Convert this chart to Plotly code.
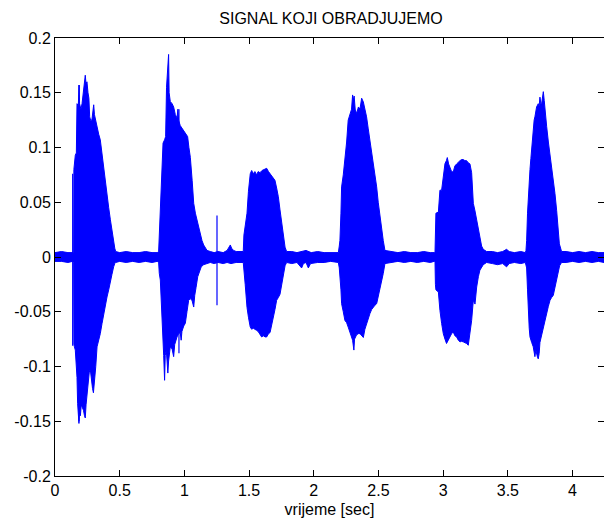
import plotly.graph_objects as go

# Upper envelope of the speech signal (time [s], amplitude)
up_t = [0.0, 0.05, 0.10, 0.135,
        0.144, 0.146, 0.157, 0.165, 0.170, 0.180, 0.186, 0.190, 0.200, 0.209, 0.220, 0.228, 0.234, 0.240, 0.247,
        0.255, 0.262, 0.268, 0.275, 0.285, 0.292, 0.299, 0.305, 0.315, 0.325, 0.338, 0.350, 0.362, 0.376, 0.389,
        0.402, 0.415, 0.428, 0.440, 0.453, 0.462, 0.469,
        0.50, 0.55, 0.60, 0.65, 0.70, 0.75, 0.79,
        0.801, 0.806, 0.814, 0.822, 0.835, 0.847, 0.855, 0.862, 0.868, 0.874, 0.878, 0.882, 0.891, 0.905, 0.917,
        0.930, 0.943, 0.950, 0.955, 0.968, 0.981, 0.995, 1.007, 1.025, 1.035, 1.046, 1.060, 1.072, 1.085, 1.097,
        1.110, 1.123, 1.136, 1.149, 1.162, 1.175,
        1.20, 1.23, 1.26, 1.30, 1.33, 1.345, 1.355, 1.365, 1.38, 1.40, 1.43, 1.455,
        1.460, 1.470, 1.484, 1.495, 1.509, 1.520, 1.532, 1.545, 1.558, 1.570, 1.584, 1.600, 1.620, 1.636, 1.650,
        1.662, 1.675, 1.687, 1.700, 1.713, 1.726, 1.739, 1.752, 1.765, 1.778, 1.790,
        1.83, 1.87, 1.90, 1.94, 1.98, 2.03, 2.08, 2.13, 2.19,
        2.197, 2.202, 2.210, 2.215, 2.228, 2.241, 2.254, 2.266, 2.279, 2.292, 2.300, 2.305, 2.312, 2.320, 2.331,
        2.345, 2.357, 2.370, 2.383, 2.395, 2.408, 2.421, 2.434, 2.447, 2.460, 2.473, 2.486, 2.498, 2.511, 2.524,
        2.537, 2.550,
        2.60, 2.65, 2.70, 2.75, 2.80, 2.85, 2.90, 2.93,
        2.937, 2.940, 2.944, 2.963, 2.975, 2.988, 3.001, 3.014, 3.025, 3.032, 3.042, 3.052, 3.065, 3.078, 3.090,
        3.104, 3.117, 3.130, 3.143, 3.155, 3.168, 3.181, 3.194, 3.207, 3.220, 3.233, 3.246, 3.259, 3.272, 3.284,
        3.297, 3.310, 3.336,
        3.38, 3.42, 3.46, 3.49, 3.51, 3.55, 3.60, 3.635,
        3.640, 3.645, 3.652, 3.658, 3.665, 3.671, 3.678, 3.684, 3.690, 3.696, 3.703, 3.709, 3.716, 3.722, 3.735,
        3.742, 3.748, 3.755, 3.761, 3.768, 3.774, 3.781, 3.787, 3.793, 3.800, 3.813, 3.826, 3.838, 3.851, 3.864,
        3.877, 3.888, 3.898, 3.915,
        3.95, 4.00, 4.05, 4.10, 4.15, 4.20, 4.243]
up_v = [0.004, 0.005, 0.004, 0.004,
        0.004, 0.080, 0.093, 0.095, 0.140, 0.138, 0.157, 0.140, 0.135, 0.140, 0.150, 0.160, 0.166, 0.158, 0.160,
        0.150, 0.145, 0.128, 0.125, 0.125, 0.130, 0.139, 0.130, 0.124, 0.120, 0.112, 0.107, 0.095, 0.079, 0.068,
        0.058, 0.045, 0.034, 0.024, 0.015, 0.008, 0.005,
        0.004, 0.005, 0.004, 0.004, 0.005, 0.004, 0.004,
        0.005, 0.020, 0.027, 0.060, 0.104, 0.107, 0.110, 0.155, 0.165, 0.180, 0.185, 0.150, 0.142, 0.140, 0.137,
        0.130, 0.127, 0.135, 0.125, 0.120, 0.1175, 0.115, 0.113, 0.110, 0.100, 0.091, 0.070, 0.049, 0.040, 0.0335,
        0.027, 0.022, 0.015, 0.011, 0.008, 0.006,
        0.005, 0.004, 0.005, 0.004, 0.006, 0.009, 0.011, 0.008, 0.006, 0.005, 0.005, 0.005,
        0.020, 0.027, 0.040, 0.060, 0.076, 0.079, 0.076, 0.078, 0.075, 0.078, 0.077, 0.079, 0.080, 0.081, 0.078,
        0.076, 0.075, 0.073, 0.070, 0.063, 0.055, 0.043, 0.031, 0.020, 0.009, 0.005,
        0.005, 0.004, 0.005, 0.006, 0.004, 0.005, 0.004, 0.004, 0.004,
        0.010, 0.015, 0.040, 0.064, 0.075, 0.088, 0.105, 0.125, 0.131, 0.135, 0.148, 0.143, 0.147, 0.135, 0.131,
        0.137, 0.135, 0.145, 0.1416, 0.135, 0.128, 0.117, 0.1066, 0.097, 0.088, 0.076, 0.064, 0.050, 0.0365, 0.025,
        0.015, 0.006,
        0.005, 0.004, 0.005, 0.004, 0.004, 0.005, 0.004, 0.004,
        0.005, 0.030, 0.040, 0.041, 0.061, 0.061, 0.076, 0.0853, 0.088, 0.0908, 0.085, 0.082, 0.078, 0.0776, 0.083,
        0.085, 0.087, 0.088, 0.089, 0.089, 0.088, 0.088, 0.086, 0.085, 0.077, 0.049, 0.042, 0.0335, 0.024, 0.015,
        0.010, 0.007, 0.005,
        0.005, 0.004, 0.005, 0.007, 0.005, 0.004, 0.005, 0.004,
        0.006, 0.015, 0.040, 0.058, 0.065, 0.080, 0.090, 0.1005, 0.110, 0.119, 0.125, 0.128, 0.133, 0.137, 0.140,
        0.138, 0.146, 0.140, 0.140, 0.148, 0.151, 0.143, 0.133, 0.128, 0.119, 0.105, 0.094, 0.083, 0.073, 0.058,
        0.0426, 0.025, 0.012, 0.005,
        0.005, 0.004, 0.005, 0.004, 0.005, 0.004, 0.004]

# Lower envelope of the speech signal (time [s], amplitude)
lo_t = [0.0, 0.05, 0.10, 0.135,
        0.144, 0.146, 0.150, 0.157, 0.164, 0.170, 0.175, 0.180, 0.185, 0.190, 0.196, 0.203, 0.209, 0.220, 0.228,
        0.234, 0.240, 0.247, 0.255, 0.265, 0.273, 0.280, 0.290, 0.297, 0.305, 0.315, 0.325, 0.338, 0.350, 0.363,
        0.376, 0.389, 0.402, 0.415, 0.428, 0.440, 0.453, 0.462, 0.469,
        0.50, 0.55, 0.60, 0.65, 0.70, 0.75, 0.79,
        0.801, 0.806, 0.814, 0.822, 0.835, 0.840, 0.847, 0.852, 0.860, 0.866, 0.872, 0.878, 0.891, 0.905, 0.917,
        0.925, 0.943, 0.955, 0.968, 0.975, 0.981, 0.995, 1.007, 1.020, 1.033, 1.046, 1.060, 1.072, 1.080, 1.090,
        1.103, 1.116, 1.130, 1.149, 1.175,
        1.20, 1.23, 1.26, 1.30, 1.33, 1.36, 1.40, 1.43, 1.455,
        1.460, 1.470, 1.484, 1.495, 1.509, 1.520, 1.532, 1.545, 1.558, 1.570, 1.584, 1.597, 1.610, 1.625, 1.636,
        1.650, 1.662, 1.675, 1.687, 1.700, 1.713, 1.726, 1.739, 1.752, 1.765, 1.778, 1.790,
        1.83, 1.87, 1.906, 1.92, 1.94, 1.958, 1.975, 2.03, 2.08, 2.13, 2.19,
        2.197, 2.202, 2.210, 2.215, 2.228, 2.241, 2.254, 2.266, 2.279, 2.292, 2.300, 2.310, 2.315, 2.331, 2.345,
        2.357, 2.370, 2.383, 2.395, 2.408, 2.421, 2.434, 2.447, 2.460, 2.473, 2.486, 2.498, 2.511, 2.524, 2.537,
        2.550,
        2.60, 2.65, 2.70, 2.75, 2.80, 2.85, 2.90, 2.93,
        2.937, 2.940, 2.944, 2.963, 2.975, 2.988, 3.001, 3.014, 3.026, 3.039, 3.052, 3.065, 3.078, 3.091, 3.104,
        3.117, 3.130, 3.143, 3.155, 3.168, 3.181, 3.194, 3.207, 3.220, 3.233, 3.246, 3.259, 3.272, 3.284, 3.297,
        3.310, 3.336,
        3.38, 3.42, 3.46, 3.49, 3.51, 3.55, 3.60, 3.635,
        3.640, 3.645, 3.652, 3.658, 3.665, 3.671, 3.684, 3.696, 3.709, 3.716, 3.722, 3.730, 3.735, 3.742, 3.748,
        3.761, 3.774, 3.787, 3.800, 3.813, 3.826, 3.838, 3.851, 3.864, 3.877, 3.890, 3.900, 3.915,
        3.95, 4.00, 4.05, 4.10, 4.15, 4.20, 4.243]
lo_v = [-0.004, -0.004, -0.005, -0.004,
        -0.005, -0.080, -0.082, -0.085, -0.094, -0.110, -0.134, -0.145, -0.152, -0.140, -0.145, -0.135, -0.137, -0.140, -0.145,
        -0.147, -0.135, -0.128, -0.115, -0.105, -0.103, -0.111, -0.120, -0.124, -0.115, -0.100, -0.082, -0.076, -0.070, -0.061,
        -0.0516, -0.044, -0.0365, -0.030, -0.024, -0.016, -0.009, -0.006, -0.005,
        -0.004, -0.005, -0.004, -0.005, -0.004, -0.005, -0.004,
        -0.005, -0.015, -0.021, -0.050, -0.076, -0.090, -0.1126, -0.090, -0.085, -0.095, -0.106, -0.095, -0.082, -0.084, -0.091,
        -0.080, -0.073, -0.070, -0.069, -0.076, -0.068, -0.063, -0.0606, -0.050, -0.0395, -0.038, -0.040, -0.0457, -0.035, -0.028,
        -0.018, -0.013, -0.009, -0.007, -0.006,
        -0.005, -0.006, -0.005, -0.006, -0.005, -0.006, -0.005, -0.005, -0.005,
        -0.015, -0.025, -0.046, -0.055, -0.064, -0.066, -0.065, -0.066, -0.067, -0.068, -0.070, -0.073, -0.072, -0.073, -0.073,
        -0.070, -0.069, -0.062, -0.055, -0.048, -0.0395, -0.037, -0.034, -0.026, -0.018, -0.008, -0.005,
        -0.006, -0.005, -0.010, -0.006, -0.005, -0.010, -0.006, -0.005, -0.005, -0.004, -0.005,
        -0.010, -0.015, -0.030, -0.0426, -0.050, -0.058, -0.060, -0.064, -0.067, -0.073, -0.076, -0.085, -0.075, -0.071, -0.070,
        -0.070, -0.072, -0.0735, -0.066, -0.061, -0.056, -0.0517, -0.048, -0.046, -0.044, -0.0426, -0.036, -0.0304, -0.022, -0.015,
        -0.006,
        -0.005, -0.004, -0.005, -0.004, -0.005, -0.004, -0.005, -0.004,
        -0.005, -0.025, -0.030, -0.032, -0.0487, -0.0606, -0.070, -0.075, -0.079, -0.077, -0.073, -0.070, -0.0685, -0.072, -0.073,
        -0.076, -0.0775, -0.077, -0.0775, -0.078, -0.079, -0.0806, -0.070, -0.058, -0.0395, -0.043, -0.0274, -0.018, -0.012, -0.009,
        -0.007, -0.005,
        -0.006, -0.007, -0.006, -0.009, -0.006, -0.005, -0.006, -0.005,
        -0.006, -0.010, -0.030, -0.0517, -0.065, -0.073, -0.078, -0.082, -0.091, -0.085, -0.087, -0.092, -0.093, -0.088, -0.078,
        -0.070, -0.064, -0.058, -0.0517, -0.045, -0.0395, -0.037, -0.035, -0.028, -0.0213, -0.013, -0.008, -0.005,
        -0.005, -0.004, -0.005, -0.004, -0.005, -0.004, -0.005]

# Isolated thin spikes (time, top, bottom)
spike_t = [0.1365, 0.186, 0.958, 1.252]
spike_hi = [0.076, 0.157, 0.135, 0.038]
spike_lo = [-0.081, -0.150, -0.088, -0.044]

x_ticks = [0, 0.5, 1, 1.5, 2, 2.5, 3, 3.5, 4]
x_tick_labels = ["0", "0.5", "1", "1.5", "2", "2.5", "3", "3.5", "4"]
y_ticks = [-0.2, -0.15, -0.1, -0.05, 0, 0.05, 0.1, 0.15, 0.2]
y_tick_labels = ["-0.2", "-0.15", "-0.1", "-0.05", "0", "0.05", "0.1", "0.15", "0.2"]

BLUE = "#0000FF"
FONT = "Liberation Sans, Arial, sans-serif"
FS = 16

poly_x = up_t + lo_t[::-1]
poly_y = up_v + lo_v[::-1]

sx, sy = [], []
for t, hi, lo in zip(spike_t, spike_hi, spike_lo):
    sx += [t, t, None]
    sy += [hi, lo, None]

fig = go.Figure()
fig.add_trace(go.Scatter(x=poly_x, y=poly_y, mode="lines", fill="toself",
                         fillcolor=BLUE, line=dict(color=BLUE, width=1),
                         hoverinfo="skip"))
fig.add_trace(go.Scatter(x=sx, y=sy, mode="lines", line=dict(color=BLUE, width=1.2),
                         hoverinfo="skip"))

axis_common = dict(showgrid=False, zeroline=False, showline=True, linecolor="black",
                   linewidth=1, mirror="allticks", ticks="inside", ticklen=6,
                   tickcolor="black", tickwidth=1,
                   tickfont=dict(family=FONT, size=FS, color="black"))

fig.update_layout(
    width=604, height=521,
    margin=dict(l=55, r=0, t=38, b=45),
    paper_bgcolor="white", plot_bgcolor="white",
    showlegend=False,
    font=dict(family=FONT, size=FS, color="black"),
    title=dict(text="SIGNAL KOJI OBRADJUJEMO", x=331 / 604, xanchor="center",
               y=1 - 18 / 521, yanchor="middle",
               font=dict(family=FONT, size=FS, color="black")),
    xaxis=dict(range=[0, 4.243], tickvals=x_ticks, ticktext=x_tick_labels,
               title=dict(text="vrijeme [sec]", standoff=5,
                          font=dict(family=FONT, size=FS, color="black")),
               **axis_common),
    yaxis=dict(range=[-0.2, 0.2], tickvals=y_ticks, ticktext=y_tick_labels, **axis_common),
)

fig.write_html("out.html")
